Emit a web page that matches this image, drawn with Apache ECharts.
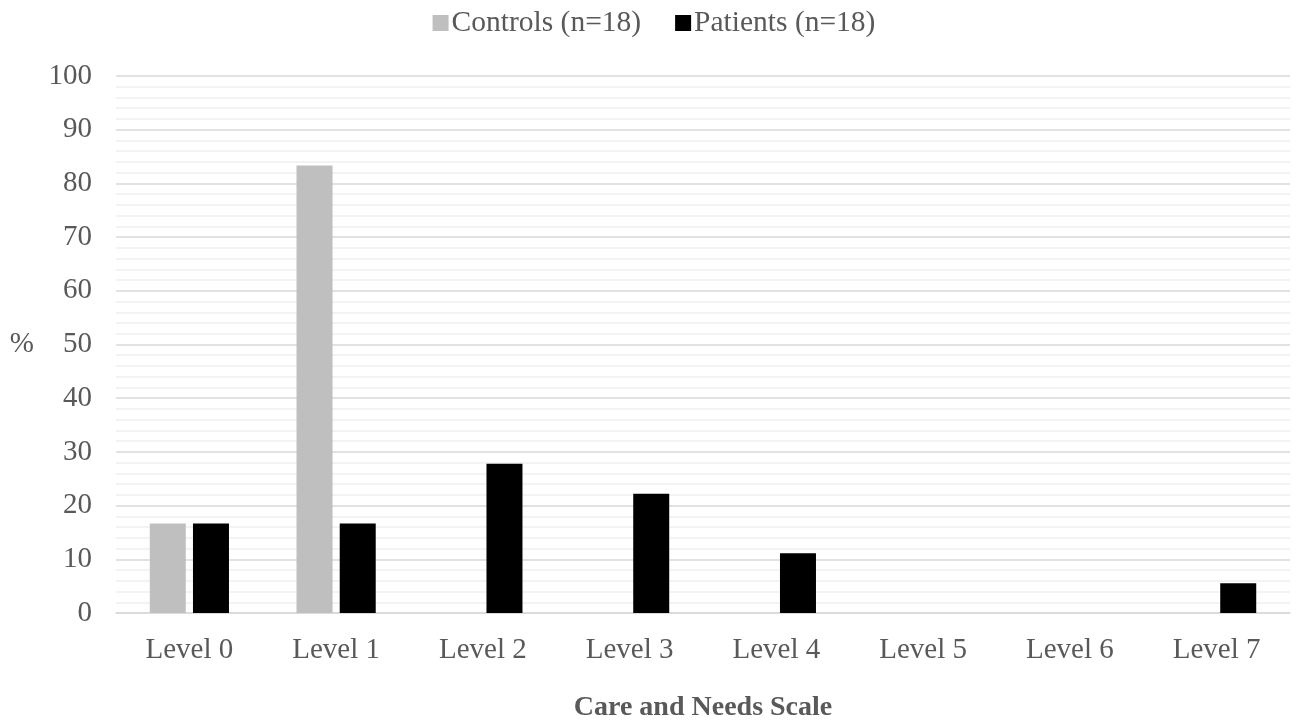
<!DOCTYPE html>
<html>
<head>
<meta charset="utf-8">
<script src="https://cdn.jsdelivr.net/npm/echarts@6/dist/echarts.min.js"></script>
<style>
html,body{margin:0;padding:0;background:#fff;}
#chart{width:1308px;height:722px;}
</style>
</head>
<body>
<div id="chart"></div>
<script>
const categories = ['Level 0','Level 1','Level 2','Level 3','Level 4','Level 5','Level 6','Level 7'];
const controls = [16.67, 83.33, 0, 0, 0, 0, 0, 0];
const patients = [16.67, 16.67, 27.78, 22.22, 11.11, 0, 0, 5.56];
const seriesNames = ['Controls (n=18)', 'Patients (n=18)'];

const FONT = '"Liberation Serif","Times New Roman",serif';
const chart = echarts.init(document.getElementById('chart'));
chart.setOption({
  animation: false,
  textStyle: {fontFamily: FONT},
  legend: {
    top: 3, left: 'center',
    itemWidth: 16, itemHeight: 16, itemGap: 34,
    icon: 'rect',
    textStyle: {fontFamily: FONT, fontSize: 29.5, color: '#595959', padding: [0,0,0,-2]},
    data: seriesNames
  },
  grid: {left: 116, right: 18, top: 76, bottom: 109, containLabel: false, outerBoundsMode: 'none'},
  xAxis: {
    type: 'category', data: categories,
    axisLine: {lineStyle: {color: '#d9d9d9', width: 1.5}},
    axisTick: {show: false},
    axisLabel: {fontFamily: FONT, fontSize: 29, color: '#595959', margin: 23},
    name: 'Care and Needs Scale', nameLocation: 'middle', nameGap: 81,
    nameTextStyle: {fontFamily: FONT, fontSize: 28, fontWeight: 'bold', color: '#595959'}
  },
  yAxis: {
    type: 'value', min: 0, max: 100, interval: 10,
    axisLine: {show: false}, axisTick: {show: false},
    axisLabel: {fontFamily: FONT, fontSize: 29, color: '#595959', margin: 24},
    splitLine: {lineStyle: {color: '#d9d9d9', width: 1.5}},
    minorTick: {show: false, splitNumber: 5},
    minorSplitLine: {show: true, lineStyle: {color: '#f0f0f0', width: 1.5}},
    name: '%', nameLocation: 'middle', nameGap: 82, nameRotate: 0,
    nameTextStyle: {fontFamily: FONT, fontSize: 29, color: '#595959'}
  },
  series: [
    {name: seriesNames[0], type: 'bar', data: controls, barWidth: 36, barGap: '20%',
     itemStyle: {color: '#bfbfbf'}},
    {name: seriesNames[1], type: 'bar', data: patients, barWidth: 36,
     itemStyle: {color: '#000000'}}
  ]
});
</script>
</body>
</html>
